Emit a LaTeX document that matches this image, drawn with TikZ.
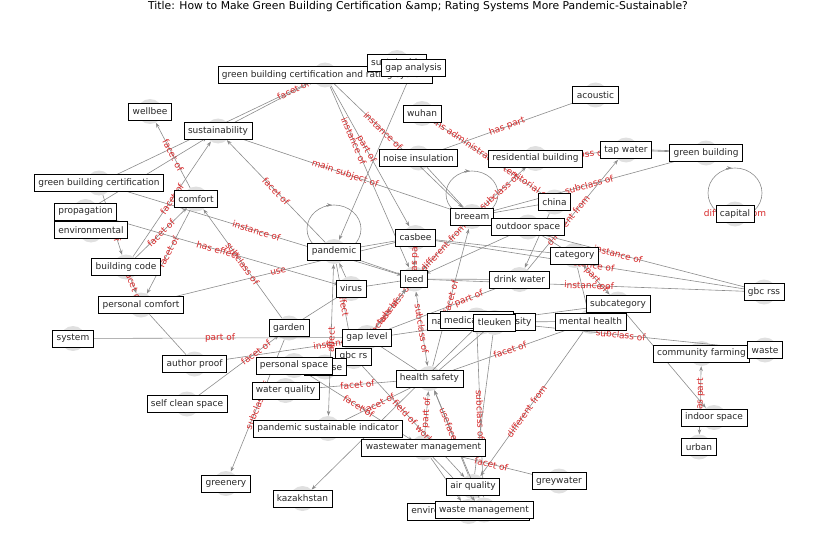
\documentclass[tikz,border=0pt]{standalone}
\usepackage{fontspec}
\setmainfont{DejaVu Sans}
\usetikzlibrary{arrows.meta}
\definecolor{labred}{RGB}{214,39,40}
\definecolor{edgegray}{RGB}{140,140,140}
\definecolor{dotgray}{RGB}{224,224,224}
\newcommand\gfont{\fontsize{9}{10}\selectfont}
\tikzset{
 dot/.style={circle, fill=dotgray, minimum size=25pt, inner sep=0pt},
 box/.style={draw=black, fill=white, font=\gfont, inner xsep=4pt, inner ysep=0pt, minimum height=17pt, line width=0.7pt, text=black!85},
 e/.style={draw=edgegray, line width=0.6pt},
 a/.style={e, -{Stealth[length=5pt,width=3.6pt]}},
 aa/.style={e, {Stealth[length=5pt,width=3.6pt]}-{Stealth[length=5pt,width=3.6pt]}},
 lab/.style={text=labred, font=\gfont, sloped, inner sep=0.5pt},
}
\begin{document}
\begin{tikzpicture}[x=1pt,y=-1pt]
\useasboundingbox (0,0) rectangle (837,559);
\node[font=\fontsize{10.8}{12}\selectfont] (title) at (418,7) {Title: How to Make Green Building Certification \&amp; Rating Systems More Pandemic-Sustainable?};
% node circles
\node[dot] (gbcrs) at (325,75) {};
\node[dot] (sus) at (397,62.5) {};
\node[dot] (gapan) at (413.5,68) {};
\node[dot] (acoustic) at (595.5,95) {};
\node[dot] (wellbee) at (150,111.5) {};
\node[dot] (wuhan) at (422,113.5) {};
\node[dot] (sustain) at (218,131) {};
\node[dot] (noise) at (418.5,158) {};
\node[dot] (resid) at (535.5,158.5) {};
\node[dot] (tap) at (626,150) {};
\node[dot] (gbuild) at (706,153) {};
\node[dot] (capital) at (735,214) {};
\node[dot] (gbcert) at (99,183) {};
\node[dot] (comfort) at (196,199) {};
\node[dot] (propag) at (85.5,211.5) {};
\node[dot] (environ) at (91,230) {};
\node[dot] (breeam) at (472,216.5) {};
\node[dot] (china) at (554.5,202) {};
\node[dot] (outdoor) at (528,227) {};
\node[dot] (casbee) at (415.5,237.5) {};
\node[dot] (pandemic) at (334,251.5) {};
\node[dot] (category) at (574.5,255.5) {};
\node[dot] (bcode) at (126,267) {};
\node[dot] (leed) at (414,279) {};
\node[dot] (drink) at (519.5,279.5) {};
\node[dot] (virus) at (351,288.5) {};
\node[dot] (gbcrss) at (764,292) {};
\node[dot] (pcomfort) at (141,305) {};
\node[dot] (subcat) at (618,304) {};
\node[dot] (nazar) at (481.5,322) {};
\node[dot] (medical) at (476.5,320) {};
\node[dot] (tleuken) at (494.5,322.5) {};
\node[dot] (mental) at (590.5,321.5) {};
\node[dot] (system) at (73,338.5) {};
\node[dot] (garden) at (289,328) {};
\node[dot] (gaplevel) at (367,337.5) {};
\node[dot] (gbcrstwo) at (353.5,356.5) {};
\node[dot] (disease) at (325,367) {};
\node[dot] (pspace) at (294,365.5) {};
\node[dot] (author) at (194.5,364) {};
\node[dot] (wquality) at (285.5,390.5) {};
\node[dot] (health) at (429.5,378.5) {};
\node[dot] (commfarm) at (701.5,353.5) {};
\node[dot] (waste) at (765,350) {};
\node[dot] (selfclean) at (187,404) {};
\node[dot] (indoor) at (714,417.5) {};
\node[dot] (psi) at (328,428.5) {};
\node[dot] (wastewater) at (423.5,447.5) {};
\node[dot] (urban) at (699,447) {};
\node[dot] (greywater) at (559,481) {};
\node[dot] (greenery) at (226,483.5) {};
\node[dot] (airq) at (473,486.5) {};
\node[dot] (kazakh) at (302.5,498.5) {};
\node[dot] (envprot) at (468.5,511.5) {};
\node[dot] (wastemgmt) at (484,510) {};
% self loops
\draw[e] (472,194) ellipse [x radius=26pt, y radius=23pt];
\draw[a] (464,171) -- (470,171);
\draw[e] (334,229) ellipse [x radius=27pt, y radius=24pt];
\draw[a] (326,205) -- (332,205);
\draw[e] (735,193) ellipse [x radius=27pt, y radius=25pt];
\draw[a] (726,168) -- (732,168);
\node[lab] at (735,213) {different from};
% edges
\draw[a] (gbcert) -- node[lab,pos=.9]{facet of} (gbcrs);
\draw[a] (sustain) -- (gbcrs);
\draw[a] (sustain) -- node[lab]{main subject of} (breeam);
\draw[a] (gbcrs) -- node[lab,pos=.3]{instance of} (leed);
\draw[a] (gbcrs) -- node[lab,pos=.45]{part of} (casbee);
\draw[a] (gbcrs) -- node[lab,pos=.38]{instance of} (breeam);
\draw[a] (gapan) -- (pandemic);
\draw[a] (china) -- node[lab]{contains administrative territorial entity} (wuhan);
\draw[a] (noise) -- node[lab]{has part} (acoustic);
\draw[e] (noise) -- (breeam);
\draw[a] (breeam) -- node[lab,pos=.4]{subclass of} (resid);
\draw[a] (resid) -- node[lab]{subclass of} (tap);
\draw[e] (tap) -- (gbuild);
\draw[e] ([yshift=1pt]tap.center) -- ([yshift=1pt]gbuild.center);
\draw[a] (breeam) -- node[lab]{subclass of} (gbuild);
\draw[a] (drink) -- node[lab,pos=.45]{different from} (tap);
\draw[a] (breeam) -- node[lab]{different from} (leed);
\draw[a] (outdoor) -- (leed);
\draw[a] (china) -- (drink);
\draw[e] (china) -- (breeam);
\draw[e] (casbee) -- (category);
\draw[a] (breeam) -- node[lab]{instance of} (gbcrss);
\draw[a] (casbee) -- node[lab]{instance of} (gbcrss);
\draw[a] (leed) -- node[lab]{instance of} (gbcrss);
\draw[aa] (category) -- node[lab]{part of} (subcat);
\draw[e] (category) -- (mental);
\draw[a] (nazar) -- (subcat);
\draw[e] (mental) -- (nazar);
\draw[a] (medical) -- node[lab]{subclass of} (waste);
\draw[a] (subcat) -- (indoor);
\draw[aa] (commfarm) -- node[lab,pos=.45]{has part} (urban);
\draw[a] (mental) -- node[lab]{facet of} (health);
\draw[a] (mental) -- node[lab,pos=.55]{different from} (airq);
\draw[a] (medical) -- node[lab]{subclass of} (wastemgmt);
\draw[aa] (leed) -- node[lab]{subclass of} (health);
\draw[a] (gaplevel) -- node[lab,pos=.6]{subclass of} (leed);
\draw[a] (gbcrstwo) -- node[lab,pos=.45]{subclass of} (leed);
\draw[aa] (pandemic) -- node[lab]{affect} (psi);
\draw[a] (pandemic) -- node[lab]{affect} (gbcrstwo);
\draw[a] (virus) -- (pandemic);
\draw[a] (author) -- node[lab]{instance of} (nazar);
\draw[a] (system) -- node[lab]{part of} (gaplevel);
\draw[a] (gaplevel) -- node[lab,pos=.7]{part of} (drink);
\draw[a] (health) -- node[lab]{facet of} (breeam);
\draw[a] (wquality) -- node[lab]{facet of} (health);
\draw[a] (psi) -- node[lab]{facet of} (health);
\draw[a] (pspace) -- node[lab]{facet of} (wastewater);
\draw[a] (gbcrstwo) -- node[lab]{field of work} (airq);
\draw[a] (wastewater) -- node[lab]{part of} (health);
\draw[a] (airq) -- node[lab,pos=.7]{use} (health);
\draw[a] (wastemgmt) -- node[lab,pos=.55]{facet of} (health);
\draw[a] (greywater) -- node[lab]{facet of} (wastewater);
\draw[a] (nazar) -- (kazakh);
\draw[a] (wastewater) -- (envprot);
\draw[a] (wastewater) -- (wastemgmt);
\draw[a] (garden) -- node[lab]{subclass of} (greenery);
\draw[a] (selfclean) -- node[lab,pos=.72]{facet of} (garden);
\draw[e] (pcomfort) -- (author);
\draw[a] (pcomfort) -- node[lab]{use} (casbee);
\draw[a] (comfort) -- node[lab]{facet of} (pcomfort);
\draw[a] (bcode) -- node[lab]{facet of} (comfort);
\draw[a] (comfort) -- node[lab]{facet of} (wellbee);
\draw[a] (gbcert) -- node[lab]{facet of} (bcode);
\draw[a] (gbcert) -- node[lab]{instance of} (leed);
\draw[a] (propag) -- node[lab]{has effect} (virus);
\draw[a] (propag) -- (sustain);
\draw[a] (bcode) -- node[lab]{facet of} (sustain);
\draw[a] (pandemic) -- node[lab]{facet of} (sustain);
\draw[a] (garden) -- node[lab]{subclass of} (comfort);
\draw[e] (garden) -- (virus);
\draw[e] (pandemic) -- (casbee);
\draw[e] (pandemic) -- (leed);
\draw[a] (casbee) -- node[lab]{has part} (leed);
\draw[e] (leed) -- (drink);
\draw[e] (virus) -- (leed);
\draw[e] (tleuken) -- (health);
\draw[e] (tleuken) -- (airq);
\draw[e] (outdoor) -- (category);
\draw[a] (bcode) -- node[lab]{facet of} (pcomfort);
\draw[e] (gaplevel) -- (health);
% boxes
\node[box] at (gbcrs) {green building certification and rating system};
\node[box] at (sus) {sustainable};
\node[box] at (gapan) {gap analysis};
\node[box] at (acoustic) {acoustic};
\node[box] at (wellbee) {wellbee};
\node[box] at (wuhan) {wuhan};
\node[box] at (sustain) {sustainability};
\node[box] at (noise) {noise insulation};
\node[box] at (resid) {residential building};
\node[box] at (tap) {tap water};
\node[box] at (gbuild) {green building};
\node[box] at (capital) {capital};
\node[box] at (gbcert) {green building certification};
\node[box] at (comfort) {comfort};
\node[box] at (propag) {propagation};
\node[box] at (environ) {environmental};
\node[box] at (breeam) {breeam};
\node[box] at (china) {china};
\node[box] at (outdoor) {outdoor space};
\node[box] at (casbee) {casbee};
\node[box] at (pandemic) {pandemic};
\node[box] at (category) {category};
\node[box] at (bcode) {building code};
\node[box] at (leed) {leed};
\node[box] at (drink) {drink water};
\node[box] at (virus) {virus};
\node[box] at (gbcrss) {gbc rss};
\node[box] at (pcomfort) {personal comfort};
\node[box] at (subcat) {subcategory};
\node[box] at (nazar) {nazarbayev university};
\node[box] at (medical) {medical waste};
\node[box] at (tleuken) {tleuken};
\node[box] at (mental) {mental health};
\node[box] at (system) {system};
\node[box] at (garden) {garden};
\node[box] at (gaplevel) {gap level};
\node[box] at (gbcrstwo) {gbc rs};
\node[box] at (disease) {disease};
\node[box] at (pspace) {personal space};
\node[box] at (author) {author proof};
\node[box] at (wquality) {water quality};
\node[box] at (health) {health safety};
\node[box] at (commfarm) {community farming};
\node[box] at (waste) {waste};
\node[box] at (selfclean) {self clean space};
\node[box] at (indoor) {indoor space};
\node[box] at (psi) {pandemic sustainable indicator};
\node[box] at (wastewater) {wastewater management};
\node[box] at (urban) {urban};
\node[box] at (greywater) {greywater};
\node[box] at (greenery) {greenery};
\node[box] at (airq) {air quality};
\node[box] at (kazakh) {kazakhstan};
\node[box] at (envprot) {environmental protection};
\node[box] at (wastemgmt) {waste management};
\end{tikzpicture}
\end{document}
